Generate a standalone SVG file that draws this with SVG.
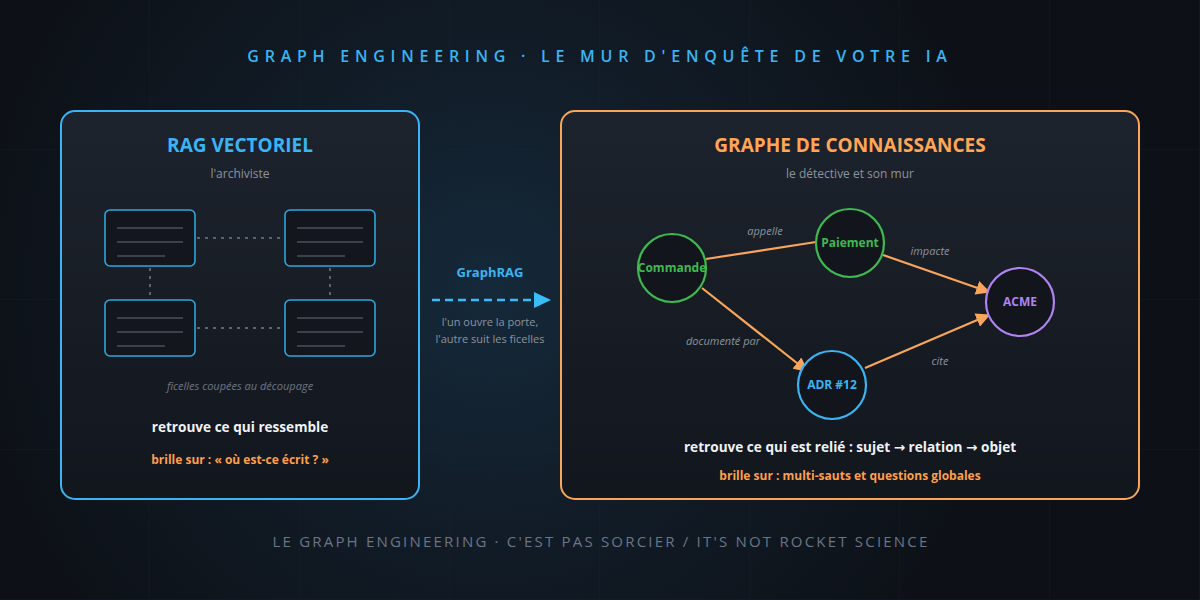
<svg xmlns="http://www.w3.org/2000/svg" width="1200" height="600" viewBox="0 0 1200 600">
<defs>
<radialGradient id="glow" cx="490" cy="290" r="520" gradientUnits="userSpaceOnUse">
<stop offset="0" stop-color="#15293a"/>
<stop offset="0.5" stop-color="#111b26"/>
<stop offset="1" stop-color="#0d1117"/>
</radialGradient>
<linearGradient id="panel" x1="0" y1="0" x2="0" y2="1">
<stop offset="0" stop-color="#1d232d"/>
<stop offset="1" stop-color="#12161d"/>
</linearGradient>
<pattern id="grid" width="150" height="150" patternUnits="userSpaceOnUse">
<path d="M150 0 V150 M0 150 H150" fill="none" stroke="#1a2330" stroke-width="1" opacity="0.5"/>
</pattern>
<marker id="arrO" viewBox="0 0 10 10" refX="9" refY="5" markerWidth="6.5" markerHeight="6.5" markerUnits="strokeWidth" orient="auto">
<path d="M0 0 L10 5 L0 10 Z" fill="#f9a55b"/>
</marker>
</defs>
<style>
text{font-family:"Open Sans","Noto Sans","DejaVu Sans",sans-serif;text-anchor:middle}
.title{font-size:16px;font-weight:600;fill:#3ab4f2;letter-spacing:5.75px}
.foot{font-size:15px;fill:#6b7585;letter-spacing:2.2px}
.ptitle{font-size:19px;font-weight:700}
.sub{font-size:12px;fill:#8b949e}
.note{font-size:11px;font-style:italic;fill:#6e7681}
.elab{font-size:11px;font-style:italic;fill:#8b949e}
.main{font-size:13.6px;font-weight:700;fill:#eef2f6}
.shine{font-size:12px;font-weight:700;fill:#ff9f4a}
.doc{fill:#13161d;stroke:#2ea6de;stroke-width:1.6}
.dl{stroke:#3b414b;stroke-width:2}
.dot{stroke:#5c6470;stroke-width:2;stroke-dasharray:3 5;fill:none}
.node{fill:#12151c;stroke-width:2.2}
.nlab{font-size:12px;font-weight:700}
.edge{stroke:#f9a55b;stroke-width:2.2;fill:none}
</style>
<rect width="1200" height="600" fill="url(#glow)"/>
<rect width="1200" height="600" fill="url(#grid)"/>

<text class="title" x="600" y="62">GRAPH ENGINEERING · LE MUR D'ENQUÊTE DE VOTRE IA</text>

<g id="panel-rag">
<rect x="61" y="111" width="358" height="388" rx="14" fill="url(#panel)" stroke="#3ab4f2" stroke-width="2"/>
<text class="ptitle" x="240" y="152" fill="#3ab4f2">RAG VECTORIEL</text>
<text class="sub" x="240" y="178">l'archiviste</text>
<line class="dot" x1="197" y1="238" x2="283" y2="238"/>
<line class="dot" x1="197" y1="328" x2="283" y2="328"/>
<line class="dot" x1="150" y1="268" x2="150" y2="298"/>
<line class="dot" x1="330" y1="268" x2="330" y2="298"/>
<g id="doc1"><rect class="doc" x="105" y="210" width="90" height="56" rx="5"/><path class="dl" d="M117 228H183M117 242H183M117 256H165"/></g>
<g id="doc2"><rect class="doc" x="285" y="210" width="90" height="56" rx="5"/><path class="dl" d="M297 228H363M297 242H363M297 256H345"/></g>
<g id="doc3"><rect class="doc" x="105" y="300" width="90" height="56" rx="5"/><path class="dl" d="M117 318H183M117 332H183M117 346H165"/></g>
<g id="doc4"><rect class="doc" x="285" y="300" width="90" height="56" rx="5"/><path class="dl" d="M297 318H363M297 332H363M297 346H345"/></g>
<text class="note" x="240" y="390">ficelles coupées au découpage</text>
<text class="main" x="240" y="432">retrouve ce qui ressemble</text>
<text class="shine" x="240" y="464">brille sur : « où est-ce écrit ? »</text>
</g>

<g id="bridge">
<text x="490" y="277" style="font-size:13px;font-weight:700;fill:#3ab4f2">GraphRAG</text>
<line x1="432" y1="300" x2="536" y2="300" stroke="#38bdf8" stroke-width="2.5" stroke-dasharray="8 5"/>
<path d="M534 292 L551 300 L534 308 Z" fill="#38bdf8"/>
<text class="sub" x="490" y="326" style="font-size:11px">l'un ouvre la porte,</text>
<text class="sub" x="490" y="343" style="font-size:11px">l'autre suit les ficelles</text>
</g>

<g id="panel-kg">
<rect x="561" y="111" width="578" height="388" rx="14" fill="url(#panel)" stroke="#f9a55b" stroke-width="2"/>
<text class="ptitle" x="850" y="152" fill="#ffa657">GRAPHE DE CONNAISSANCES</text>
<text class="sub" x="850" y="178">le détective et son mur</text>
<text class="main" x="850" y="452">retrouve ce qui est relié : sujet → relation → objet</text>
<text class="shine" x="850" y="480">brille sur : multi-sauts et questions globales</text>
</g>

<g id="connectors">
<line class="edge" x1="706" y1="259" x2="816" y2="242"/>
<line class="edge" x1="883" y1="255" x2="989" y2="292" marker-end="url(#arrO)"/>
<line class="edge" x1="702" y1="288" x2="807" y2="371" marker-end="url(#arrO)"/>
<line class="edge" x1="865" y1="368" x2="989" y2="315" marker-end="url(#arrO)"/>
<text class="elab" x="765" y="235">appelle</text>
<text class="elab" x="930" y="255">impacte</text>
<text class="elab" x="723" y="345">documenté par</text>
<text class="elab" x="940" y="365">cite</text>
</g>

<g id="node-commande"><circle class="node" cx="672" cy="268" r="34" stroke="#3fb950"/><text class="nlab" x="672" y="272" fill="#3fb950">Commande</text></g>
<g id="node-paiement"><circle class="node" cx="850" cy="243" r="34" stroke="#3fb950"/><text class="nlab" x="850" y="247" fill="#3fb950">Paiement</text></g>
<g id="node-acme"><circle class="node" cx="1020" cy="302" r="34" stroke="#b083f0"/><text class="nlab" x="1020" y="306" fill="#b083f0">ACME</text></g>
<g id="node-adr"><circle class="node" cx="832" cy="385" r="34" stroke="#3ab4f2"/><text class="nlab" x="832" y="389" fill="#3ab4f2">ADR #12</text></g>

<text class="foot" x="601" y="547">LE GRAPH ENGINEERING · C'EST PAS SORCIER / IT'S NOT ROCKET SCIENCE</text>
</svg>
